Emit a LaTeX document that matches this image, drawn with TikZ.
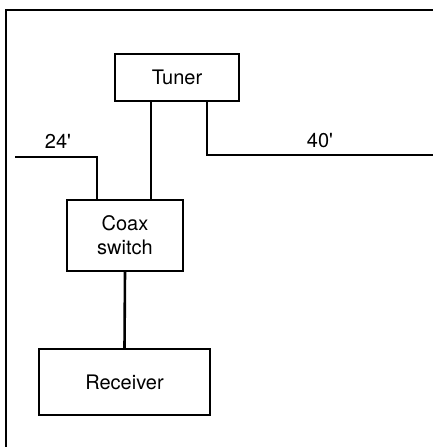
\documentclass[tikz,border=0pt]{standalone}
\usepackage{fontspec}
\setmainfont{TeX Gyre Heros}
\usetikzlibrary{positioning}

\begin{document}
\begin{tikzpicture}[x=1pt, y=-1pt,
    unitbox/.style={draw, line width=1.3pt, inner sep=0pt, align=center},
    cable/.style={line width=2.6pt},
    lengthlabel/.style={inner sep=1pt}]

    % --- 画布范围 ---
    \useasboundingbox (0,0) rectangle (433,447);
    \fontsize{20}{24}\selectfont

    % --- 外框 (只有上边和左边) ---
    \draw[line width=2pt] (433,10) -- (6,10) -- (6,447);

    % --- 设备方框 ---
    \node[unitbox, minimum width=124pt, minimum height=47pt] (tuner) at (177,77.5) {Tuner};
    \node[unitbox, minimum width=116pt, minimum height=71pt] (coax) at (125,235.5) {Coax\\switch};
    \node[unitbox, minimum width=171pt, minimum height=66pt] (receiver) at (124.5,382) {Receiver};

    % --- 电缆端点 ---
    \coordinate (west_end) at (15,157);
    \coordinate (east_end) at (433,155);

    % --- 连线 ---
    \draw[cable] ([xshift=-26pt]tuner.south) -- ([xshift=26pt]coax.north);
    \draw[cable] ([xshift=30pt]tuner.south) |- (east_end);
    \draw[cable] (west_end) -| ([xshift=-28pt]coax.north);
    \draw[cable] (coax.south) -- (receiver.north);

    % --- 电缆长度 ---
    \node[lengthlabel] (len24) at (58,141) {24\textquotesingle};
    \node[lengthlabel] (len40) at (320,141) {40\textquotesingle};

\end{tikzpicture}
\end{document}
